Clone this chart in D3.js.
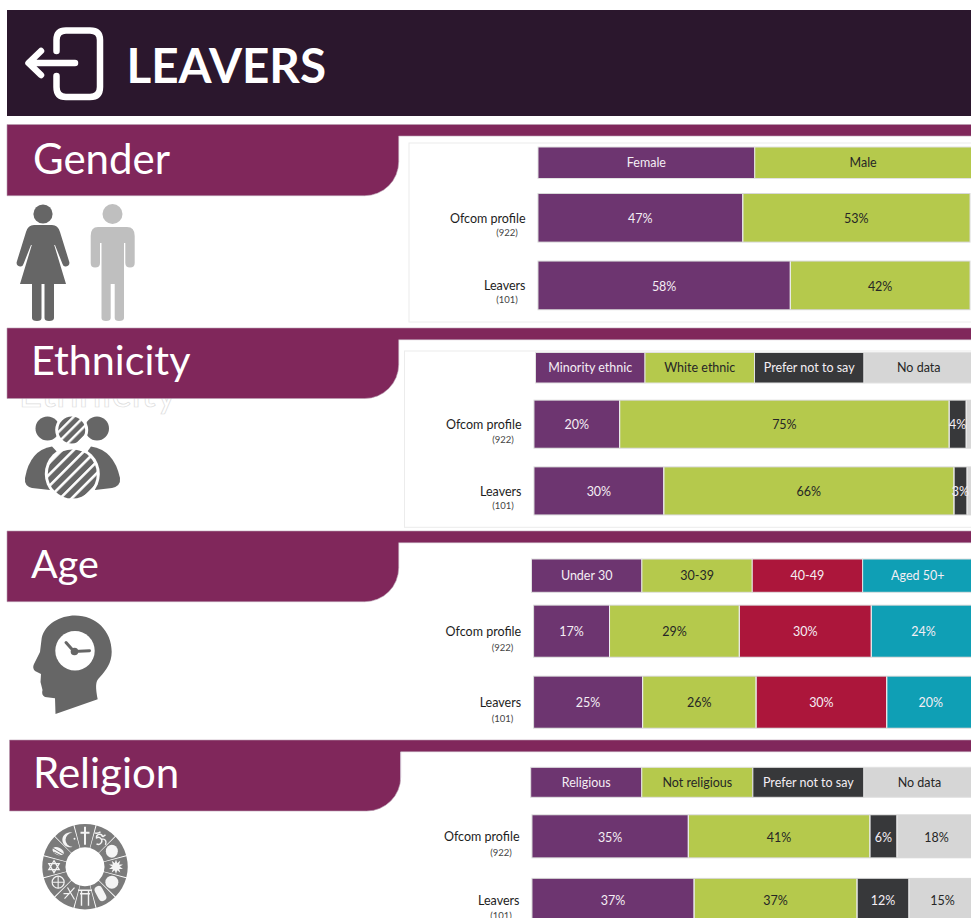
<!DOCTYPE html>
<html><head><meta charset="utf-8">
<style>html,body{margin:0;padding:0;background:#fff;overflow:hidden}svg{display:block}text{font-family:Lato,"Open Sans",sans-serif}</style>
<script src="https://cdn.jsdelivr.net/npm/d3@7/dist/d3.min.js"></script>
</head><body><svg id="c" width="971" height="918"></svg>
<script>
// ---- data ----
const rowNames = ["Ofcom profile", "Leavers"];
const rowCounts = ["(922)", "(101)"];
const pageTitle = "LEAVERS";

const genderCategories = ["Female", "Male"];
const genderProfile = [47.4, 52.6];
const genderLeavers = [58.4, 41.6];

const ethnicityCategories = ["Minority ethnic", "White ethnic", "Prefer not to say", "No data"];
const ethnicityProfile = [19.6, 75.4, 3.9, 1.1];
const ethnicityLeavers = [29.7, 66.4, 3.0, 0.9];

const ageCategories = ["Under 30", "30-39", "40-49", "Aged 50+"];
const ageProfile = [17.2, 29.4, 29.9, 23.7];
const ageLeavers = [24.7, 25.7, 29.6, 20.0];

const religionCategories = ["Religious", "Not religious", "Prefer not to say", "No data"];
const religionProfile = [35.2, 40.9, 6.1, 17.8];
const religionLeavers = [36.5, 36.7, 11.7, 15.1];

// ---- colours ----
const PURPLE="#6d3570", GREEN="#b5c94c", RED="#ac163b", TEAL="#0f9fb5", DARK="#37383a", LIGHT="#d6d6d6";
const TAB="#80275b", HEAD="#2b172d", ICON="#666666";
const inkOn = c => (c===GREEN||c===LIGHT) ? "#262626" : "#f4eef4";

// ---- layout of each section ----
const sections = [
 {title:"Gender", cats:genderCategories, rows:[genderProfile,genderLeavers], colors:[PURPLE,GREEN],
  tab:{x:7,top:124.5,strip:136,bottom:195.7,right:398.7}, titleX:33, titleY:174, titleSize:42,
  frame:{x:409,y:143,y2:322}, legend:{x0:538,x1:971.5,y0:147,y1:178.5},
  x:{r0:538,r1:970}, y:{top:194,h:47.6,gap:20}, nOff:15},
 {title:"Ethnicity", cats:ethnicityCategories, rows:[ethnicityProfile,ethnicityLeavers], colors:[PURPLE,GREEN,DARK,LIGHT],
  tab:{x:7,top:328,strip:339.7,bottom:398.5,right:398.7}, titleX:31, titleY:375, titleSize:41.3,
  frame:{x:404.5,y:351,y2:527.3}, legend:{x0:535.5,x1:973.5,y0:352.5,y1:383},
  x:{r0:534,r1:971}, y:{top:400.7,h:47,gap:19.7}, nOff:15.5},
 {title:"Age", cats:ageCategories, rows:[ageProfile,ageLeavers], colors:[PURPLE,GREEN,RED,TEAL],
  tab:{x:7,top:531,strip:542.7,bottom:601.7,right:398.7}, titleX:31, titleY:578, titleSize:39.5,
  frame:null, legend:{x0:531.5,x1:973,y0:559,y1:592.3},
  x:{r0:533.6,r1:975}, y:{top:605.7,h:51,gap:20}, nOff:17},
 {title:"Religion", cats:religionCategories, rows:[religionProfile,religionLeavers], colors:[PURPLE,GREEN,DARK,LIGHT],
  tab:{x:9.5,top:740,strip:751.7,bottom:811,right:400.7}, titleX:33, titleY:788, titleSize:42,
  frame:null, legend:{x0:530.7,x1:975,y0:767.3,y1:797.3},
  x:{r0:532,r1:976}, y:{top:815.3,h:42,gap:21.6}, nOff:16.5}
];

const svg = d3.select("#c");
const defs = svg.append("defs");
function hatch(id,period,gap){
  const p=defs.append("pattern").attr("id",id).attr("width",period).attr("height",period)
    .attr("patternUnits","userSpaceOnUse").attr("patternTransform","rotate(45)");
  p.append("rect").attr("width",period).attr("height",period).attr("fill",ICON);
  p.append("rect").attr("width",gap).attr("height",period).attr("fill","#fff");
}
hatch("hatchBig",8.2,2.6); hatch("hatchSmall",7.2,2.4);

// ---- title banner ----
svg.append("rect").attr("x",7).attr("y",10).attr("width",964).attr("height",106).attr("fill",HEAD);
const exitG=svg.append("g").attr("fill","none").attr("stroke","#fff").attr("stroke-width",6.5).attr("stroke-linecap","round").attr("stroke-linejoin","round");
exitG.append("path").attr("d","M56.5,51V40Q56.5,30.5 66,30.5H90Q100,30.5 100,40V87Q100,97 90,97H66Q56.5,97 56.5,87V76");
exitG.append("path").attr("d","M30,63H75M41,51L28.5,63L41,75");
svg.append("text").attr("x",126.5).attr("y",83).attr("fill","#fff").attr("font-size",47.6).attr("font-weight",700).text(pageTitle);

// ---- ghost title behind the Ethnicity tab ----
svg.append("text").attr("x",18.5).attr("y",407).attr("font-size",41).attr("fill","#fff").attr("stroke","#dcdcdc").attr("stroke-width",.7).text("Ethnicity");

// ---- sections ----
sections.forEach((s,si)=>{
  const t=s.tab, r=34;
  svg.append("path").attr("fill",TAB).attr("stroke","#b9a0b2").attr("stroke-width",.6)
    .attr("d",`M${t.x},${t.top}H972V${t.strip}H${t.right}V${t.bottom-r}A${r},${r} 0 0 1 ${t.right-r},${t.bottom}H${t.x}Z`);
  svg.append("text").attr("x",s.titleX).attr("y",s.titleY).attr("fill","#fff").attr("font-size",s.titleSize).text(s.title);
  if(s.frame) svg.append("rect").attr("x",s.frame.x).attr("y",s.frame.y).attr("width",620).attr("height",s.frame.y2-s.frame.y)
    .attr("fill","#fff").attr("stroke","#ececec");

  // legend header cells
  const lx=d3.scaleBand().domain(s.cats).range([s.legend.x0,s.legend.x1]);
  const lg=svg.append("g");
  lg.selectAll("rect").data(s.cats).join("rect")
    .attr("x",d=>lx(d)).attr("y",s.legend.y0).attr("width",lx.bandwidth()).attr("height",s.legend.y1-s.legend.y0)
    .attr("fill",(d,i)=>s.colors[i]).attr("stroke","#e2e2e2").attr("stroke-width",1);
  lg.selectAll("text").data(s.cats).join("text")
    .attr("x",d=>lx(d)+lx.bandwidth()/2).attr("y",(s.legend.y0+s.legend.y1)/2).attr("dy",".35em")
    .attr("text-anchor","middle").attr("font-size",12.5).attr("fill",(d,i)=>inkOn(s.colors[i])).text(d=>d);

  // bars
  const x=d3.scaleLinear().domain([0,100]).range([s.x.r0,s.x.r1]);
  const y=d3.scaleBand().domain(rowNames).range([s.y.top,s.y.top+2*s.y.h+s.y.gap]).paddingInner(s.y.gap/(s.y.h+s.y.gap)).paddingOuter(0);
  rowNames.forEach((name,ri)=>{
    const vals=s.rows[ri]; const stack=[]; let acc=0;
    vals.forEach((v,i)=>{stack.push({v,i,a:acc,b:acc+v}); acc+=v;});
    const g=svg.append("g");
    g.append("rect").attr("x",x(0)-.5).attr("y",y(name)-1).attr("width",x(acc)-x(0)+1).attr("height",y.bandwidth()+2).attr("fill","#d8d8d8");
    g.selectAll("rect.seg").data(stack).join("rect").attr("class","seg")
      .attr("x",d=>x(d.a)+.5).attr("y",y(name)).attr("width",d=>x(d.b)-x(d.a)-1).attr("height",y.bandwidth())
      .attr("fill",d=>s.colors[d.i]);
    g.selectAll("rect.sep").data(stack.slice(1)).join("rect").attr("class","sep")
      .attr("x",d=>x(d.a)-.5).attr("y",y(name)).attr("width",1).attr("height",y.bandwidth()).attr("fill","#f0f0f0");
    g.selectAll("text").data(stack.filter(d=>d.v>=2)).join("text")
      .attr("x",d=>(x(d.a)+x(d.b))/2).attr("y",y(name)+y.bandwidth()/2).attr("dy",".42em")
      .attr("text-anchor","middle").attr("font-size",12.5).attr("fill",d=>inkOn(s.colors[d.i]))
      .text(d=>Math.round(d.v)+"%");
  });

  // row labels through a d3 axis
  const ax=svg.append("g").attr("transform",`translate(${s.x.r0},0)`)
    .call(d3.axisLeft(y).tickSize(0).tickPadding(12.5));
  ax.select(".domain").remove();
  ax.selectAll("text").attr("font-size",12.5).attr("dy",".38em").attr("fill","#1d1d1d").style("font-family","Lato");
  ax.selectAll(".tick").append("text")
    .attr("x",-31).attr("y",s.nOff).attr("dy",".32em").attr("text-anchor","middle")
    .attr("font-size",9.5).attr("fill","#444").style("font-family","Lato")
    .text((d,i)=>rowCounts[i]);
});

// small artefact line under the Religion strip
svg.append("rect").attr("x",400).attr("y",752).attr("width",1).attr("height",28).attr("fill","#c9b3c7");

// ---- icons ----
// gender
const fem=svg.append("g").attr("fill",ICON);
fem.append("circle").attr("cx",43).attr("cy",214).attr("r",9.6);
fem.append("path").attr("d","M34,225H52Q58,225 60,232L69.3,262Q70,266 66,266.5Q63.5,267 62.5,264L55,245L54.2,245L66,284H54V318Q54,321 49,321Q44.5,321 44.5,318V284H41.5V318Q41.5,321 37,321Q32,321 32,318V284H20L31.8,245L31,245L23.5,264Q22.5,267 20,266.5Q16,266 16.7,262L26,232Q28,225 34,225Z");
const mal=svg.append("g").attr("fill","#bfbfbf");
mal.append("circle").attr("cx",112.5).attr("cy",214).attr("r",10);
mal.append("path").attr("d","M98,227H127Q134.7,227 134.7,236V263Q134.7,267.5 130,267.5Q125.5,267.5 125.3,263V243H124V318Q124,321 119,321Q114.7,321 114.7,318V284H110.7V318Q110.7,321 106,321Q101.5,321 101.5,318V243H100V263Q100,267.5 95,267.5Q90.7,267.5 90.7,263V236Q90.7,227 98,227Z");

// ethnicity
const eth=svg.append("g");
eth.append("circle").attr("cx",47.5).attr("cy",428.5).attr("r",12).attr("fill",ICON);
eth.append("circle").attr("cx",97).attr("cy",428.5).attr("r",12).attr("fill",ICON);
eth.append("circle").attr("cx",71.7).attr("cy",430).attr("r",16.5).attr("fill","#fff");
eth.append("circle").attr("cx",71.7).attr("cy",430).attr("r",13.5).attr("fill","url(#hatchSmall)");
eth.append("path").attr("fill",ICON).attr("d","M52,446.5Q30,450 25,478Q24,486 32,488L50,490L60,455Z");
eth.append("path").attr("fill",ICON).attr("d","M91,446.5Q114,450 120,478Q121,486 112,488L95,490L85,455Z");
eth.append("circle").attr("cx",72.3).attr("cy",474).attr("r",27.5).attr("fill","#fff");
eth.append("circle").attr("cx",72.3).attr("cy",474).attr("r",24.5).attr("fill","url(#hatchBig)");

// age
const age=svg.append("g");
age.append("path").attr("fill",ICON).attr("d","M41.7,638C45,624 60,615.5 75,615.5C96,615.5 111.7,631 111.7,651.7C111.7,663 106,670 100,677C96,681 95,684 97.7,699.3L55.5,714L55,698.3L45,697Q41,695 42.5,690L40.5,682L41,674L35,671Q32,668 34,664L40,652Z");
age.append("circle").attr("cx",75).attr("cy",650.7).attr("r",19.7).attr("fill","#fff");
age.append("path").attr("fill","none").attr("stroke",ICON).attr("stroke-width",3).attr("stroke-linecap","round").attr("d","M66,642.5L74,651.5L89.5,650.7");
age.append("circle").attr("cx",74.5).attr("cy",651.5).attr("r",3.8).attr("fill",ICON);

// religion wheel
const rel=svg.append("g").attr("transform","translate(85,866.7)");
const arc=d3.arc().innerRadius(19.5).outerRadius(42.7);
const sectorAngles=d3.range(12).map(i=>i*Math.PI/6);
rel.selectAll("path.sec").data(sectorAngles).join("path").attr("class","sec").attr("fill","#7b7b7b")
  .attr("d",a=>arc({startAngle:a-Math.PI/12+.012,endAngle:a+Math.PI/12-.012}));
const W="#f4f4f4";
const glyph=[
 g=>{g.append("path").attr("d","M-1,-9H1V-4H4.5V-2H1V9H-1V-2H-4.5V-4H-1Z").attr("fill",W);},
 g=>{g.append("path").attr("d","M3,-7A7.5,7.5 0 1 0 3,7A6.2,6.2 0 1 1 3,-7Z").attr("fill",W);g.append("circle").attr("cx",5).attr("cy",-1).attr("r",1).attr("fill",W);},
 g=>{g.append("path").attr("d","M2,-3A3,3 0 1 0 -4,-2A3.5,3.5 0 1 1 -4,4M2,-3L5,-5M1,-1Q7,-1 5,5M-6,-7Q-3,-6 0,-8").attr("fill","none").attr("stroke",W).attr("stroke-width",1.4);},
 g=>{g.append("ellipse").attr("rx",6).attr("ry",6.5).attr("fill",W);},
 g=>{g.append("path").attr("d",d3.symbol(d3.symbolStar,60)()).attr("fill",W);g.append("path").attr("d",d3.symbol(d3.symbolStar,60)()).attr("fill",W).attr("transform","rotate(36)");},
 g=>{g.append("ellipse").attr("rx",6.5).attr("ry",6.5).attr("fill",W);},
 g=>{g.append("rect").attr("x",-4).attr("y",-8).attr("width",8).attr("height",16).attr("rx",4).attr("fill",W).attr("transform","rotate(-28)");},
 g=>{g.append("path").attr("d","M-7,-7.5H7M-5,-4H5M-3.5,-7V8M3.5,-7V8").attr("fill","none").attr("stroke",W).attr("stroke-width",1.4);},
 g=>{g.append("path").attr("d","M-5,5L5,-6M-2,-6L5,6M-6,0H0").attr("fill","none").attr("stroke",W).attr("stroke-width",1.2);},
 g=>{g.append("circle").attr("r",6).attr("fill","none").attr("stroke",W).attr("stroke-width",1.2);g.append("path").attr("d","M-6,0H6M0,-6V6").attr("stroke",W).attr("stroke-width",1.1);},
 g=>{g.append("path").attr("d","M0,-6L5.2,3H-5.2ZM0,6L-5.2,-3H5.2Z").attr("fill","none").attr("stroke",W).attr("stroke-width",1.3);},
 g=>{g.append("ellipse").attr("rx",6).attr("ry",3.6).attr("fill",W).attr("transform","rotate(25)");g.append("path").attr("d","M-5,-3L5,3M-4,1L4,5").attr("stroke","#7b7b7b").attr("stroke-width",1);}
];
// order clockwise from the top: cross, om, blob, star, blob, bottle, torii, khanda, wheel, david, dove, crescent
const glyphOrder=[0,2,3,4,5,6,7,8,9,10,11,1];
sectorAngles.forEach((a,i)=>{
  const px=31*Math.sin(a), py=-31*Math.cos(a);
  const g=rel.append("g").attr("transform",`translate(${px},${py})`);
  glyph[glyphOrder[i]](g);
});
</script></body></html>
